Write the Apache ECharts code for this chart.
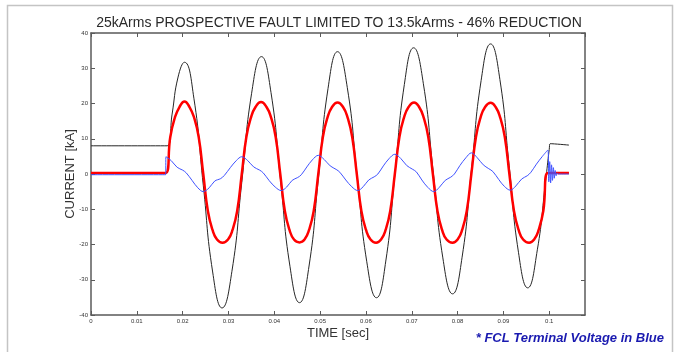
<!DOCTYPE html>
<html>
<head>
<meta charset="utf-8">
<script src="https://cdn.jsdelivr.net/npm/echarts@6/dist/echarts.min.js"></script>
<style>
  html, body { margin: 0; padding: 0; background: #fff; }
  #chart { width: 678px; height: 352px; }
</style>
</head>
<body>
<div id="chart"></div>
<script>
// ticks
const xTicks = { min: 0, max: 0.1078, interval: 0.01 };
const yTicks = { min: -40, max: 40, interval: 10 };

// prospective current (black) [sec, kA]
const prospective = [
  [0, 8], [0.0166, 8], [0.0177, 17], [0.0190, 27.5], [0.0204, 31.7],
  [0.02245, 21.5], [0.0245, -3.2], [0.02655, -27.8], [0.0286, -38],
  [0.03075, -27.6], [0.0329, -2.4], [0.03505, 22.9], [0.0372, 33.3],
  [0.03928, 23.1], [0.04135, -1.6], [0.04343, -26.3], [0.0455, -36.5],
  [0.04758, -26.1], [0.04965, -0.9], [0.05173, 24.3], [0.0538, 34.7],
  [0.05593, 24.5], [0.05805, -0.2], [0.06018, -24.9], [0.0623, -35.1],
  [0.06433, -24.7], [0.06635, 0.4], [0.06838, 25.4], [0.0704, 35.8],
  [0.07253, 25.6], [0.07465, 0.9], [0.07678, -23.8], [0.0789, -34],
  [0.08098, -23.6], [0.08305, 1.5], [0.08513, 26.5], [0.0872, 36.9],
  [0.08923, 26.8], [0.09125, 2.3], [0.09328, -22.2], [0.0953, -32.3],
  [0.0974, -21.5], [0.0992, -2], [0.1000, 7], [0.1002, 8.6], [0.1043, 8.2]
];

// limited current (red)
const limited = [
  [0, 0.3], [0.0163, 0.3], [0.0173, 10.5], [0.0183, 16], [0.0193, 19], [0.0204, 20.6],
  [0.0215, 19], [0.0225, 16], [0.0235, 10.5], [0.0245, 0],
  [0.0255, -10.5], [0.0265, -15.8], [0.0275, -18.6], [0.0287, -19.5],
  [0.0299, -18.6], [0.0309, -15.8], [0.0319, -10.5], [0.0329, 0],
  [0.0339, 10.5], [0.0349, 16], [0.0359, 19], [0.0371, 20.4],
  [0.0383, 19], [0.0393, 16], [0.0403, 10.5], [0.0413, 0],
  [0.0423, -10.5], [0.0433, -15.8], [0.0443, -18.6], [0.0455, -19.4],
  [0.0466, -18.6], [0.0476, -15.8], [0.0486, -10.5], [0.0496, 0],
  [0.0506, 10.5], [0.0516, 16], [0.0526, 19], [0.0538, 20.3],
  [0.0550, 19], [0.0560, 16], [0.0570, 10.5], [0.0580, 0],
  [0.0590, -10.5], [0.0600, -15.8], [0.0610, -18.6], [0.0622, -19.5],
  [0.0633, -18.6], [0.0643, -15.8], [0.0653, -10.5], [0.0663, 0],
  [0.0673, 10.5], [0.0683, 16], [0.0693, 19], [0.0705, 20.3],
  [0.0716, 19], [0.0726, 16], [0.0736, 10.5], [0.0746, 0],
  [0.0756, -10.5], [0.0766, -15.8], [0.0776, -18.6], [0.0789, -19.5],
  [0.0800, -18.6], [0.0810, -15.8], [0.0820, -10.5], [0.0830, 0],
  [0.0840, 10.5], [0.0850, 16], [0.0860, 19], [0.0872, 20.2],
  [0.0883, 19], [0.0893, 16], [0.0903, 10.5], [0.0913, 0],
  [0.0923, -10.5], [0.0933, -15.8], [0.0943, -18.6], [0.0956, -19.5],
  [0.0967, -18.6], [0.0977, -15.8], [0.0987, -10.5], [0.0997, 0.3],
  [0.1043, 0.3]
];

// FCL terminal voltage (blue)
const voltage = [
  [0, -0.2], [0.0163, -0.2], [0.01635, 4.9],
  [0.0175, 3.8], [0.0188, 1.9], [0.0200, 1.1], [0.0208, 0.3], [0.0221, -1.9], [0.0233, -3.9], [0.0245, -5.0],
  [0.0258, -3.9], [0.0270, -2.0], [0.0283, -1.3], [0.0291, -0.4], [0.0304, 1.8], [0.0317, 3.8], [0.0329, 4.9],
  [0.0342, 3.8], [0.0355, 2.0], [0.0368, 1.1], [0.0376, 0.3], [0.0389, -1.9], [0.0402, -3.7], [0.0415, -4.7],
  [0.0427, -3.7], [0.0439, -1.8], [0.0451, -1.0], [0.0459, -0.2], [0.0471, 2.0], [0.0483, 4.0], [0.0496, 5.3],
  [0.0509, 4.1], [0.0522, 2.3], [0.0535, 1.3], [0.0543, 0.5], [0.0556, -1.7], [0.0569, -3.6], [0.0582, -4.7],
  [0.0594, -3.6], [0.0606, -1.7], [0.0618, -0.8], [0.0626, 0.0], [0.0638, 2.3], [0.0650, 4.3], [0.0663, 5.6],
  [0.0676, 4.4], [0.0689, 2.4], [0.0701, 1.4], [0.0710, 0.6], [0.0722, -1.7], [0.0735, -3.8], [0.0748, -5.0],
  [0.0760, -3.8], [0.0773, -1.8], [0.0785, -0.9], [0.0793, 0.0], [0.0805, 2.4], [0.0818, 4.6], [0.0830, 6.0],
  [0.0843, 4.6], [0.0856, 2.6], [0.0868, 1.5], [0.0877, 0.7], [0.0890, -1.6], [0.0902, -3.5], [0.0915, -4.6],
  [0.0927, -3.4], [0.0940, -1.4], [0.0952, -0.5], [0.0960, 0.5], [0.0972, 2.8], [0.0985, 5.0], [0.0997, 6.8],
  [0.0999, -2.2], [0.1001, 3.5], [0.1003, -2.5], [0.1005, 2.6], [0.1007, -1.8], [0.1009, 1.8],
  [0.1011, -1.2], [0.1013, 1.0], [0.1015, -0.5], [0.1017, 0.3], [0.1020, 0], [0.1043, 0]
];

const font = '"Liberation Sans", Arial, sans-serif';
const axisColor = '#5a5a5a';

const chart = echarts.init(document.getElementById('chart'));

const boxAxis = (extra) => Object.assign({
  type: 'value',
  axisLine: { show: true, onZero: false, lineStyle: { color: axisColor, width: 1.5 } },
  axisTick: { show: true, inside: true, length: 4, lineStyle: { color: axisColor, width: 1 } },
  splitLine: { show: false }
}, extra);

chart.setOption({
  animation: false,
  backgroundColor: '#fff',
  title: {
    text: '25kArms PROSPECTIVE FAULT LIMITED TO 13.5kArms - 46% REDUCTION',
    left: 'center',
    top: 11,
    textStyle: { fontFamily: font, fontSize: 14, fontWeight: 'normal', color: '#2a2a2a' }
  },
  grid: { left: 91, top: 33, right: 93, bottom: 37 },
  xAxis: [
    boxAxis({
      position: 'bottom',
      min: xTicks.min, max: xTicks.max, interval: xTicks.interval,
      name: 'TIME [sec]',
      nameLocation: 'middle',
      nameGap: 12,
      nameMoveOverlap: false,
      nameTextStyle: { fontFamily: font, fontSize: 13, color: '#333', verticalAlign: 'top' },
      axisLabel: { fontFamily: font, fontSize: 6, color: '#333', margin: 3, showMaxLabel: false }
    }),
    boxAxis({
      position: 'top',
      min: xTicks.min, max: xTicks.max, interval: xTicks.interval,
      axisLabel: { show: false }
    })
  ],
  yAxis: [
    boxAxis({
      position: 'left',
      min: yTicks.min, max: yTicks.max, interval: yTicks.interval,
      name: 'CURRENT [kA]',
      nameLocation: 'middle',
      nameGap: 14,
      nameMoveOverlap: false,
      nameRotate: 90,
      nameTextStyle: { fontFamily: font, fontSize: 13, color: '#333' },
      axisLabel: { fontFamily: font, fontSize: 6, color: '#333', margin: 3 }
    }),
    boxAxis({
      position: 'right',
      min: yTicks.min, max: yTicks.max, interval: yTicks.interval,
      axisLabel: { show: false }
    })
  ],
  series: [
    {
      name: 'Prospective', type: 'line', data: prospective,
      smooth: 0.5, showSymbol: false,
      lineStyle: { color: '#262626', width: 1 }
    },
    {
      name: 'Limited', type: 'line', data: limited,
      smooth: 0.5, showSymbol: false,
      lineStyle: { color: '#ff0000', width: 2.5 }
    },
    {
      name: 'Voltage', type: 'line', data: voltage,
      smooth: 0.35, showSymbol: false,
      lineStyle: { color: '#3f52ff', width: 1 }
    }
  ],
  graphic: [
    {
      type: 'rect', silent: true,
      shape: { x: 7.5, y: 5.5, width: 665, height: 400 },
      style: { fill: 'none', stroke: '#c4c4c4', lineWidth: 1.5 }
    },
    {
      type: 'text', silent: true,
      x: 664, y: 338,
      style: {
        text: '* FCL Terminal Voltage in Blue',
        align: 'right', verticalAlign: 'middle',
        fontFamily: font, fontSize: 13, fontWeight: 'bold', fontStyle: 'italic',
        fill: '#1a1ab0'
      }
    }
  ]
});
</script>
</body>
</html>
